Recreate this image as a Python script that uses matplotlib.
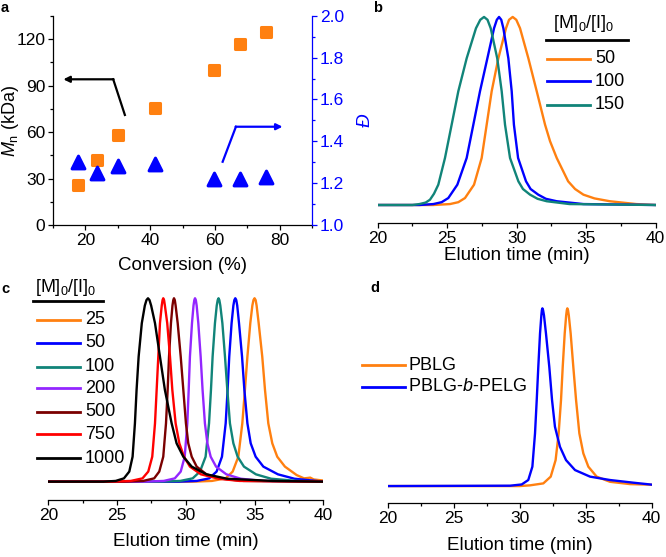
import matplotlib.pyplot as plt
from matplotlib.markers import MarkerStyle
from matplotlib.ticker import MultipleLocator

plt.rcParams['font.family'] = ['Liberation Sans', 'DejaVu Sans']
plt.rcParams['mathtext.fontset'] = 'custom'
plt.rcParams['mathtext.rm'] = 'Liberation Sans'
plt.rcParams['mathtext.it'] = 'Liberation Sans:italic'
plt.rcParams['axes.linewidth'] = 0.9

ORANGE = '#ff8010'
BLUE = '#0000ff'
TEAL = '#118479'
PURPLE = '#9326ff'
DARKRED = '#7a0000'
RED = '#ff0000'
BLACK = '#000000'

# ---- panel a: Mn and dispersity vs conversion
conv = [17.6, 23.6, 30.2, 41.4, 59.7, 67.8, 75.8]
mn = [26.1, 42.2, 57.8, 75.8, 100.1, 116.6, 124.5]
disp = [1.30, 1.25, 1.28, 1.29, 1.22, 1.22, 1.23]

# ---- panel b: GPC traces, [M]0/[I]0 = 50, 100, 150
b_x_50 = [20, 24.0, 25.2, 25.8, 26.28, 26.93, 27.48, 27.84, 28.2, 28.68, 29.23, 29.45, 29.71,
          29.97, 30.24, 30.84, 31.44, 32.04, 32.4, 32.88, 33.7, 34.2, 34.8, 35.6, 36.7, 38.6, 40]
b_y_50 = [0, 0, 0.005, 0.015, 0.037, 0.108, 0.25, 0.427, 0.605, 0.78, 0.94, 0.985, 1.0,
          0.985, 0.94, 0.78, 0.605, 0.427, 0.339, 0.25, 0.126, 0.085, 0.055, 0.035, 0.02, 0.005, 0]
b_x_100 = [20, 23.0, 24.0, 24.6, 25.08, 25.73, 26.40, 26.88, 27.36, 27.89, 28.37, 28.57, 28.73,
           28.89, 29.04, 29.4, 29.64, 29.8, 30.1, 30.67, 31.0, 31.55, 32.1, 32.88, 34.8, 40]
b_y_100 = [0, 0, 0.005, 0.015, 0.037, 0.108, 0.25, 0.427, 0.605, 0.78, 0.94, 0.985, 1.0,
           0.985, 0.94, 0.78, 0.605, 0.427, 0.25, 0.126, 0.085, 0.055, 0.033, 0.02, 0.005, 0]
b_x_150 = [20, 22.5, 23.0, 23.45, 23.76, 24.05, 24.36, 24.84, 25.32, 25.80, 26.40, 27.07, 27.38,
           27.65, 27.9, 28.13, 28.6, 28.92, 29.16, 29.52, 30.12, 30.45, 30.96, 31.5, 32.16, 33.8, 40]
b_y_150 = [0, 0, 0.005, 0.013, 0.028, 0.06, 0.108, 0.25, 0.427, 0.605, 0.78, 0.94, 0.985,
           1.0, 0.985, 0.94, 0.78, 0.605, 0.427, 0.25, 0.126, 0.085, 0.055, 0.033, 0.02, 0.005, 0]
b_labels = ['50', '100', '150']

# ---- panel c: GPC traces, [M]0/[I]0 = 25 ... 1000
c_y = [0, 0, 0.004, 0.018, 0.055, 0.136, 0.318, 0.5, 0.682, 0.864, 0.96, 0.99, 1.0,
       0.99, 0.96, 0.864, 0.682, 0.5, 0.318, 0.209, 0.136, 0.082, 0.04, 0.016, 0.004, 0]
c_x_1000 = [20, 24.0, 24.9, 25.5, 25.89, 26.13, 26.3, 26.42, 26.57, 26.8, 27.02, 27.14, 27.25,
            27.36, 27.48, 27.76, 28.12, 28.48, 28.97, 29.33, 29.82, 30.43, 31.5, 33.0, 36.3, 40]
c_x_750 = [20, 24.5, 26.0, 26.85, 27.27, 27.56, 27.76, 27.88, 28.0, 28.12, 28.25, 28.31, 28.36,
           28.42, 28.48, 28.65, 28.85, 29.02, 29.26, 29.53, 29.87, 30.3, 31.1, 32.4, 33.9, 40]
c_x_500 = [20, 25.5, 26.9, 27.7, 28.07, 28.36, 28.56, 28.68, 28.78, 28.92, 29.03, 29.09, 29.14,
           29.2, 29.26, 29.41, 29.63, 29.82, 30.01, 30.18, 30.43, 30.79, 31.5, 32.6, 34.2, 40]
c_x_200 = [20, 27.0, 28.4, 29.2, 29.63, 29.92, 30.11, 30.21, 30.3, 30.45, 30.56, 30.62, 30.67,
           30.73, 30.79, 30.91, 31.08, 31.22, 31.39, 31.57, 31.81, 32.2, 32.95, 34.0, 35.6, 40]
c_x_100 = [20, 28.0, 29.6, 30.5, 31.03, 31.44, 31.69, 31.83, 31.95, 32.12, 32.25, 32.32, 32.38,
           32.44, 32.51, 32.66, 32.85, 33.02, 33.21, 33.46, 33.77, 34.23, 35.1, 36.2, 38.1, 40]
c_x_50 = [20, 29.5, 30.8, 31.7, 32.24, 32.63, 32.9, 33.04, 33.16, 33.33, 33.46, 33.53, 33.6,
          33.67, 33.74, 33.87, 34.09, 34.26, 34.48, 34.72, 35.08, 35.64, 36.7, 37.9, 39.5, 40]
c_x_25 = [20, 30.5, 31.9, 32.9, 33.41, 33.82, 34.11, 34.3, 34.48, 34.69, 34.84, 34.92, 35.0,
          35.08, 35.15, 35.3, 35.56, 35.76, 36.0, 36.29, 36.65, 37.21, 38.06, 38.6, 38.85, 39.05,
          39.3, 40]
c_y_25 = [0, 0, 0.004, 0.018, 0.055, 0.136, 0.318, 0.5, 0.682, 0.864, 0.96, 0.99, 1.0,
          0.99, 0.96, 0.864, 0.682, 0.5, 0.318, 0.209, 0.136, 0.082, 0.036, 0.018, 0.02, 0.022,
          0.012, 0.006]
c_labels = ['25', '50', '100', '200', '500', '750', '1000']

# ---- panel d: PBLG vs PBLG-b-PELG
d_x_pblg = [20, 30.0, 30.78, 31.79, 32.35, 32.72, 32.95, 33.13, 33.26, 33.41, 33.52, 33.57, 33.61,
            33.66, 33.72, 33.86, 34.06, 34.27, 34.52, 34.82, 35.2, 35.83, 36.84, 38.36, 40]
d_y_pblg = [0, 0, 0.004, 0.015, 0.053, 0.146, 0.296, 0.484, 0.672, 0.859, 0.96, 0.99, 1.0,
            0.99, 0.96, 0.859, 0.672, 0.484, 0.296, 0.184, 0.109, 0.053, 0.024, 0.011, 0.0075]
d_x_block = [20, 29.27, 30.15, 30.65, 30.96, 31.16, 31.29, 31.41, 31.54, 31.64, 31.68, 31.72,
             31.77, 31.84, 31.99, 32.24, 32.45, 32.67, 33.05, 33.51, 34.19, 35.33, 36.84, 38.61, 40]
d_y_block = [0, 0.002, 0.009, 0.034, 0.109, 0.296, 0.484, 0.672, 0.859, 0.96, 0.99, 1.0,
             0.99, 0.96, 0.859, 0.672, 0.484, 0.334, 0.221, 0.146, 0.09, 0.053, 0.034, 0.019, 0.008]
d_labels = ['PBLG', 'PBLG-$b$-PELG']

W, H = 666, 557
fig = plt.figure(figsize=(W / 100, H / 100), dpi=100)


def box(l, t, r, b):
    return [l / W, 1 - b / H, (r - l) / W, (b - t) / H]


def style_ticks(ax):
    ax.tick_params(which='major', direction='out', length=3.5, width=0.9, labelsize=12.5, pad=2)
    ax.tick_params(which='minor', direction='out', length=2, width=0.9)


def gpc_axes(rect, ylim):
    ax = fig.add_axes(rect)
    for s in ['left', 'right', 'top']:
        ax.spines[s].set_visible(False)
    ax.set_xlim(20, 40)
    ax.set_ylim(*ylim)
    ax.set_yticks([])
    ax.xaxis.set_major_locator(MultipleLocator(5))
    ax.xaxis.set_minor_locator(MultipleLocator(2.5))
    style_ticks(ax)
    ax.set_xlabel('Elution time (min)', fontsize=13.5)
    return ax


def fig_legend(labels, colors, x0, x1, xt, ys):
    for lab, col, y in zip(labels, colors, ys):
        fig.add_artist(plt.Line2D([x0 / W, x1 / W], [1 - y / H] * 2, color=col, lw=2))
        fig.text(xt / W, 1 - y / H, lab, va='center', ha='left', fontsize=13)


LW = 1.7

# panel a
ax = fig.add_axes(box(53, 15.75, 312, 225))
ax.scatter(conv, mn, marker=MarkerStyle('s', joinstyle='round'), s=55,
           color=ORANGE, edgecolor=ORANGE, linewidth=2.2, zorder=3)
ax.set_xlim(10, 90)
ax.set_ylim(0, 135)
ax.xaxis.set_major_locator(MultipleLocator(20))
ax.xaxis.set_minor_locator(MultipleLocator(10))
ax.yaxis.set_major_locator(MultipleLocator(30))
ax.yaxis.set_minor_locator(MultipleLocator(15))
ax.spines['top'].set_visible(False)
ax.spines['right'].set_visible(False)
style_ticks(ax)
ax.set_xlabel('Conversion (%)', fontsize=13.5)
ax.set_ylabel('$M_\\mathrm{n}$ (kDa)', fontsize=13)
ax.xaxis.set_label_coords(0.5, -0.155)
ax.yaxis.set_label_coords(-0.125, 0.5)
# arrows
ax.plot([32.2, 28.6], [71, 94], color='black', lw=1.6)
ax.annotate('', xy=(13.2, 94), xytext=(28.7, 94),
            arrowprops=dict(arrowstyle='-|>', color='black', lw=1.6, mutation_scale=9, shrinkA=0, shrinkB=0))
ax.plot([62.4, 66.5], [40.8, 63.4], color=BLUE, lw=1.6)
ax.annotate('', xy=(80.9, 63.4), xytext=(66.4, 63.4),
            arrowprops=dict(arrowstyle='-|>', color=BLUE, lw=1.6, mutation_scale=9, shrinkA=0, shrinkB=0))

ax2 = ax.twinx()
ax2.scatter(conv, disp, marker=MarkerStyle('^', joinstyle='round'), s=85,
            color=BLUE, edgecolor=BLUE, linewidth=2.2, zorder=3)
ax2.set_ylim(1.0, 2.0)
ax2.yaxis.set_major_locator(MultipleLocator(0.2))
ax2.yaxis.set_minor_locator(MultipleLocator(0.1))
ax2.yaxis.set_major_formatter(plt.FormatStrFormatter('%.1f'))
ax2.spines['top'].set_visible(False)
ax2.spines['left'].set_visible(False)
ax2.spines['bottom'].set_visible(False)
ax2.spines['right'].set_color(BLUE)
style_ticks(ax2)
ax2.tick_params(which='both', colors=BLUE)
ax2.set_ylabel('$\\it{Đ}$', fontsize=13.5, color=BLUE)
ax2.yaxis.set_label_coords(1.175, 0.5)

# panel b
axb = gpc_axes(box(377.7, 10, 655.7, 223), (-0.0957, 1.037))
axb.plot(b_x_50, b_y_50, color=ORANGE, lw=LW)
axb.plot(b_x_100, b_y_100, color=BLUE, lw=LW)
axb.plot(b_x_150, b_y_150, color=TEAL, lw=LW)
axb.xaxis.set_label_coords(0.5, -0.115)
fig.text(584 / W, 1 - 24 / H, '[M]$_0$/[I]$_0$', ha='center', va='center', fontsize=13)
fig.add_artist(plt.Line2D([546 / W, 628 / W], [1 - 40.3 / H] * 2, color='black', lw=2))
fig_legend(b_labels, [ORANGE, BLUE, TEAL], 546.7, 590, 595, [58.7, 81.3, 104.7])

# panel c
axc = gpc_axes(box(48.3, 290, 323.3, 500), (-0.1, 1.045))
c_series = [(c_x_25, c_y_25, ORANGE), (c_x_50, c_y, BLUE), (c_x_100, c_y, TEAL),
            (c_x_200, c_y, PURPLE), (c_x_500, c_y, DARKRED), (c_x_750, c_y, RED),
            (c_x_1000, c_y, BLACK)]
for xs, ys, col in c_series:
    axc.plot(xs, ys, color=col, lw=LW)
axc.xaxis.set_label_coords(0.5, -0.155)
fig.text(35 / W, 1 - 288 / H, '[M]$_0$/[I]$_0$', ha='left', va='center', fontsize=13)
fig.add_artist(plt.Line2D([33 / W, 103 / W], [1 - 300.7 / H] * 2, color='black', lw=2))
fig_legend(c_labels, [s[2] for s in c_series], 36.7, 80, 85,
           [320, 342.7, 366.7, 388.3, 411.7, 434.3, 458.3])

# panel d
axd = gpc_axes(box(387.7, 295, 651.7, 503.3), (-0.097, 1.075))
axd.plot(d_x_pblg, d_y_pblg, color=ORANGE, lw=LW)
axd.plot(d_x_block, d_y_block, color=BLUE, lw=LW)
axd.xaxis.set_label_coords(0.5, -0.16)
fig_legend(d_labels, [ORANGE, BLUE], 361.7, 405, 408.3, [365, 386.7])

# panel letters
for letter, px, py in [('a', 1, 8.5), ('b', 373, 7.5), ('c', 1, 289), ('d', 370, 288)]:
    fig.text(px / W, 1 - py / H, letter, fontsize=10.5, fontweight='bold', va='center', ha='left')

fig.savefig('out.png', dpi=100)
